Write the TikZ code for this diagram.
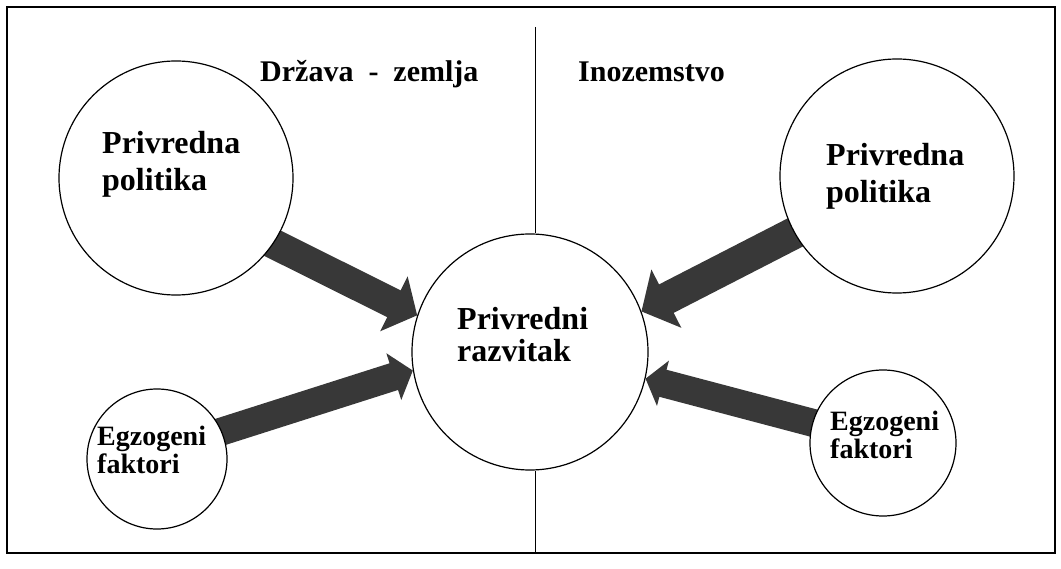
\documentclass[tikz,border=0pt]{standalone}
\usepackage{fontspec}
\setmainfont{Liberation Serif}
\usepackage{tikz}
\usetikzlibrary{arrows.meta,backgrounds}

\tikzset{
  krug/.style={draw=black, line width=1.2pt, circle, fill=white, inner sep=0pt, minimum size=#1},
  tekst/.style={font=\bfseries\fontsize{#1}{#1}\selectfont, align=left},
  strelica/.style={line width=#1, draw=black!78, shorten <=-8pt}
}

\begin{document}
\begin{tikzpicture}[x=1pt,y=1pt]
\tikzstyle{every node}+=[inner sep=0pt]
\useasboundingbox (0,0) rectangle (1061,-569);
\draw [black, line width=1.2pt] (7,-7) rectangle (1055,-553);
\node [krug=234pt] (polL) at (176,-178) {};
\node [krug=236pt] (razv) at (530,-352) {};
\node [krug=234pt] (polR) at (897,-176) {};
\node [krug=140pt] (egzL) at (157,-459) {};
\node [krug=146pt] (egzR) at (883,-443) {};
\coordinate (divT) at (535,-27);
\coordinate (divB) at (535,-553);
\draw [black, line width=1pt] (divT) -- (divT |- razv.north);
\draw [black, line width=1pt] (divB |- razv.south) -- (divB);
\begin{scope}[on background layer]
\draw [strelica=30pt, -{Triangle[width=60pt,length=26pt]}] (polL.-34) -- (razv.162);
\draw [strelica=28pt, -{Triangle[width=48pt,length=20pt]}] (egzL.23) -- (razv.189);
\draw [strelica=32pt, -{Triangle[width=64pt,length=28pt]}] (polR.209) -- (razv.20);
\draw [strelica=28pt, -{Triangle[width=46pt,length=18pt]}] (egzR.164) -- (razv.-13);
\end{scope}
\node [tekst=30, anchor=base west] (drzava) at (260,-82) {Država\enspace-\enspace zemlja};
\node [tekst=30, anchor=base west] (inoz) at (578,-82) {Inozemstvo};
\node [tekst=32, anchor=north west, text width=150pt] (polLtxt) at (102,-131) {Privredna\\[5pt]politika};
\node [tekst=32, anchor=north west, text width=150pt] (polRtxt) at (826,-143) {Privredna\\[5pt]politika};
\node [tekst=32, anchor=north west, text width=150pt] (razvtxt) at (457,-307) {Privredni\\razvitak};
\node [tekst=28, anchor=north west, text width=120pt] (egzLtxt) at (97,-426) {Egzogeni\\faktori};
\node [tekst=28, anchor=north west, text width=120pt] (egzRtxt) at (830,-411) {Egzogeni\\faktori};
\end{tikzpicture}
\end{document}
